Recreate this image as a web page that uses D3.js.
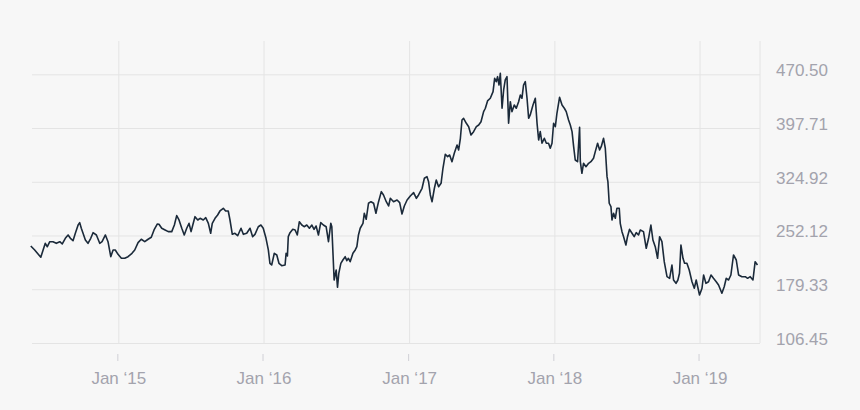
<!DOCTYPE html>
<html>
<head>
<meta charset="utf-8">
<script src="https://cdn.jsdelivr.net/npm/d3@7"></script>
<style>
  html, body { margin: 0; padding: 0; background: #f7f7f7; }
  svg { display: block; font-family: Lato, "Open Sans", sans-serif; }
  .grid line { stroke: #e4e4e4; stroke-width: 1; }
  .grid path { display: none; }
  .axis path { display: none; }
  .axis text { fill: #a3a3ad; font-size: 17px; }
  .axis line { stroke: #d0d0d6; }
</style>
</head>
<body>
<div id="chart"></div>
<script>
// price series: time as decimal year, close value
var years = [
  2014.397, 2014.424, 2014.466, 2014.482, 2014.497, 2014.511, 2014.528, 2014.550, 2014.573, 2014.597,
  2014.614, 2014.635, 2014.654, 2014.670, 2014.688, 2014.704, 2014.723, 2014.734, 2014.745, 2014.757,
  2014.773, 2014.791, 2014.810, 2014.826, 2014.849, 2014.872, 2014.888, 2014.911, 2014.929, 2014.948,
  2014.964, 2014.979, 2014.998, 2015.021, 2015.044, 2015.067, 2015.094, 2015.113, 2015.136, 2015.158,
  2015.182, 2015.205, 2015.227, 2015.246, 2015.269, 2015.280, 2015.299, 2015.322, 2015.344, 2015.368,
  2015.386, 2015.402, 2015.418, 2015.437, 2015.454, 2015.471, 2015.487, 2015.501, 2015.516, 2015.528,
  2015.547, 2015.563, 2015.585, 2015.602, 2015.620, 2015.636, 2015.647, 2015.666, 2015.684, 2015.700,
  2015.723, 2015.739, 2015.757, 2015.769, 2015.785, 2015.803, 2015.822, 2015.845, 2015.861, 2015.884,
  2015.907, 2015.925, 2015.941, 2015.964, 2015.982, 2015.998, 2016.017, 2016.033, 2016.044, 2016.056,
  2016.074, 2016.091, 2016.106, 2016.125, 2016.148, 2016.155, 2016.164, 2016.170, 2016.182, 2016.201,
  2016.217, 2016.232, 2016.246, 2016.263, 2016.279, 2016.297, 2016.315, 2016.332, 2016.347, 2016.361,
  2016.377, 2016.393, 2016.411, 2016.430, 2016.446, 2016.462, 2016.469, 2016.476, 2016.485, 2016.499,
  2016.508, 2016.517, 2016.531, 2016.545, 2016.561, 2016.572, 2016.583, 2016.595, 2016.614, 2016.630,
  2016.641, 2016.652, 2016.664, 2016.683, 2016.692, 2016.705, 2016.721, 2016.738, 2016.756, 2016.772,
  2016.790, 2016.809, 2016.824, 2016.843, 2016.859, 2016.871, 2016.893, 2016.917, 2016.935, 2016.951,
  2016.967, 2016.986, 2017.008, 2017.031, 2017.050, 2017.065, 2017.089, 2017.105, 2017.123, 2017.134,
  2017.146, 2017.158, 2017.174, 2017.187, 2017.203, 2017.220, 2017.233, 2017.249, 2017.265, 2017.279,
  2017.295, 2017.311, 2017.330, 2017.341, 2017.353, 2017.364, 2017.375, 2017.394, 2017.410, 2017.426,
  2017.444, 2017.463, 2017.479, 2017.495, 2017.513, 2017.525, 2017.540, 2017.559, 2017.578, 2017.589,
  2017.600, 2017.609, 2017.619, 2017.628, 2017.640, 2017.651, 2017.662, 2017.674, 2017.685, 2017.697,
  2017.708, 2017.724, 2017.738, 2017.754, 2017.766, 2017.777, 2017.788, 2017.800, 2017.812, 2017.823,
  2017.834, 2017.853, 2017.869, 2017.881, 2017.892, 2017.903, 2017.915, 2017.931, 2017.945, 2017.960,
  2017.972, 2017.984, 2017.995, 2018.007, 2018.018, 2018.036, 2018.053, 2018.069, 2018.082, 2018.098,
  2018.110, 2018.122, 2018.133, 2018.144, 2018.160, 2018.174, 2018.179, 2018.190, 2018.201, 2018.218,
  2018.236, 2018.252, 2018.270, 2018.282, 2018.298, 2018.312, 2018.323, 2018.339, 2018.351, 2018.363,
  2018.369, 2018.378, 2018.390, 2018.397, 2018.408, 2018.420, 2018.431, 2018.447, 2018.454, 2018.466,
  2018.477, 2018.493, 2018.504, 2018.518, 2018.535, 2018.550, 2018.564, 2018.580, 2018.592, 2018.614,
  2018.633, 2018.649, 2018.665, 2018.679, 2018.695, 2018.711, 2018.725, 2018.741, 2018.757, 2018.776,
  2018.794, 2018.810, 2018.821, 2018.838, 2018.851, 2018.862, 2018.872, 2018.886, 2018.897, 2018.913,
  2018.929, 2018.948, 2018.964, 2018.977, 2019.000, 2019.017, 2019.028, 2019.044, 2019.062, 2019.079,
  2019.096, 2019.115, 2019.131, 2019.154, 2019.170, 2019.184, 2019.200, 2019.216, 2019.234, 2019.253,
  2019.269, 2019.292, 2019.315, 2019.331, 2019.349, 2019.368, 2019.383, 2019.399
];
var prices = [
  237.9, 232.5, 222.6, 232.5, 241.5, 236.9, 243.7, 243.7, 241.5, 243.7,
  240.6, 248.3, 252.8, 248.3, 245.1, 255.1, 266.3, 269.5, 261.9, 255.1,
  246.0, 241.5, 248.3, 255.9, 252.8, 241.5, 243.7, 252.8, 243.7, 223.4,
  232.5, 232.5, 226.6, 221.2, 221.2, 223.4, 228.0, 232.5, 242.4, 247.0,
  243.7, 247.0, 249.7, 259.6, 267.7, 267.3, 261.9, 259.6, 257.3, 257.3,
  266.3, 279.0, 273.1, 261.9, 252.8, 261.9, 268.6, 257.3, 268.6, 277.6,
  273.1, 275.4, 273.1, 276.2, 268.6, 255.1, 268.6, 275.4, 279.9, 285.3,
  289.0, 285.3, 285.3, 273.1, 253.7, 255.1, 251.8, 261.9, 253.7, 255.1,
  261.9, 250.5, 253.7, 264.0, 266.3, 261.9, 248.3, 232.5, 214.4, 212.1,
  228.0, 225.7, 214.4, 211.2, 212.1, 228.0, 224.3, 250.5, 255.9, 260.5,
  259.6, 252.8, 270.8, 266.3, 264.0, 266.3, 261.9, 266.3, 260.5, 265.0,
  252.8, 269.5, 266.3, 264.0, 243.7, 268.6, 264.0, 232.5, 191.8, 205.4,
  181.9, 200.9, 214.4, 218.9, 223.4, 218.0, 221.2, 216.6, 228.0, 232.5,
  236.9, 252.8, 261.9, 268.6, 282.2, 274.1, 295.8, 297.9, 295.8, 282.2,
  297.9, 311.5, 307.0, 297.9, 292.1, 302.5, 297.9, 300.2, 296.6, 281.2,
  292.1, 300.2, 305.6, 310.1, 302.5, 307.0, 316.1, 329.6, 331.8, 325.0,
  307.0, 297.9, 316.1, 327.3, 318.2, 322.8, 343.2, 362.1, 358.9, 361.2,
  352.1, 363.5, 374.7, 368.0, 383.8, 408.6, 410.9, 404.1, 399.5, 388.3,
  392.8, 399.5, 401.8, 406.3, 419.9, 424.5, 434.4, 438.0, 447.0, 465.1,
  460.5, 467.3, 456.0, 471.9, 424.5, 449.3, 462.8, 467.3, 404.1, 433.4,
  419.9, 428.9, 424.5, 433.4, 442.5, 438.0, 456.0, 460.5, 438.0, 410.9,
  415.4, 428.9, 438.0, 404.1, 381.5, 392.8, 377.1, 383.8, 377.1, 377.1,
  370.3, 377.1, 404.1, 399.5, 417.7, 439.4, 428.9, 424.5, 419.9, 408.6,
  401.8, 392.8, 372.4, 354.4, 352.1, 398.7, 352.1, 336.4, 349.9, 345.3,
  349.9, 352.1, 356.7, 365.7, 377.1, 368.0, 372.4, 383.8, 370.3, 331.8,
  325.0, 295.8, 291.1, 273.1, 282.2, 275.4, 289.0, 289.0, 268.6, 257.3,
  250.5, 239.2, 250.5, 260.5, 255.1, 250.5, 255.9, 252.8, 259.6, 257.3,
  234.8, 248.3, 266.3, 246.0, 236.9, 221.2, 250.5, 243.7, 216.6, 196.3,
  194.1, 212.1, 191.8, 187.3, 191.8, 200.9, 239.2, 221.2, 214.4, 214.4,
  205.4, 189.5, 180.6, 191.8, 171.5, 180.6, 198.6, 187.3, 189.5, 198.6,
  194.1, 189.5, 185.0, 173.8, 182.7, 194.1, 191.8, 198.6, 225.7, 218.9,
  198.6, 196.3, 196.3, 194.1, 196.3, 191.8, 216.6, 212.1
];
var yTickValues = [106.45, 179.33, 252.12, 324.92, 397.71, 470.50];
var xStart = new Date(2014, 4, 29);
var xEnd = new Date(2019, 5, 2);

var svgWidth = 860;
var svgHeight = 410;
var plot = { left: 32, right: 760, top: 41, bottom: 343 };

function toDate(t) {
  var yr = Math.floor(t);
  var a = new Date(yr, 0, 1), b = new Date(yr + 1, 0, 1);
  return new Date(+a + (t - yr) * (b - a));
}

var data = years.map(function(t, i) {
  return { date: toDate(t), value: prices[i] };
});

var svg = d3.select("#chart").append("svg")
  .attr("width", svgWidth)
  .attr("height", svgHeight);

var x = d3.scaleTime()
  .domain([xStart, xEnd])
  .range([plot.left, plot.right]);

var y = d3.scaleLinear()
  .domain([106.45, 470.50])
  .range([343, 74.3]);

// vertical grid on January ticks
svg.append("g")
  .attr("class", "grid")
  .attr("transform", `translate(0, ${plot.bottom})`)
  .call(d3.axisBottom(x)
    .ticks(d3.timeYear.every(1))
    .tickSize(-(plot.bottom - plot.top))
    .tickFormat(""));

// horizontal grid
svg.append("g")
  .attr("class", "grid")
  .attr("transform", `translate(${plot.left}, 0)`)
  .call(d3.axisLeft(y)
    .tickValues(yTickValues)
    .tickSize(-(plot.right - plot.left))
    .tickFormat(""));

// right border of the plot
svg.append("line")
  .attr("x1", plot.right).attr("x2", plot.right)
  .attr("y1", plot.top).attr("y2", plot.bottom)
  .attr("stroke", "#e4e4e4");

// x axis labels
var xAxis = svg.append("g")
  .attr("class", "axis")
  .attr("transform", "translate(0, 354)")
  .call(d3.axisBottom(x)
    .ticks(d3.timeYear.every(1))
    .tickSize(7)
    .tickFormat(function(d) { return "Jan \u2018" + d3.timeFormat("%y")(d); }));
xAxis.selectAll("text").attr("y", 30).attr("dy", 0);
xAxis.selectAll("line").attr("transform", "translate(-1,0)");

// y axis labels
var yAxis = svg.append("g")
  .attr("class", "axis")
  .attr("transform", `translate(${plot.right}, 0)`)
  .call(d3.axisRight(y)
    .tickValues(yTickValues)
    .tickSize(0)
    .tickFormat(d3.format(".2f")));
yAxis.selectAll("text").attr("x", 16).attr("dy", 0).attr("y", 1.5);

// price line
var line = d3.line()
  .x(d => x(d.date))
  .y(d => y(d.value));

svg.append("path")
  .datum(data)
  .attr("fill", "none")
  .attr("stroke", "#1b2a3a")
  .attr("stroke-width", 1.6)
  .attr("stroke-linejoin", "round")
  .attr("d", line);
</script>
</body>
</html>
